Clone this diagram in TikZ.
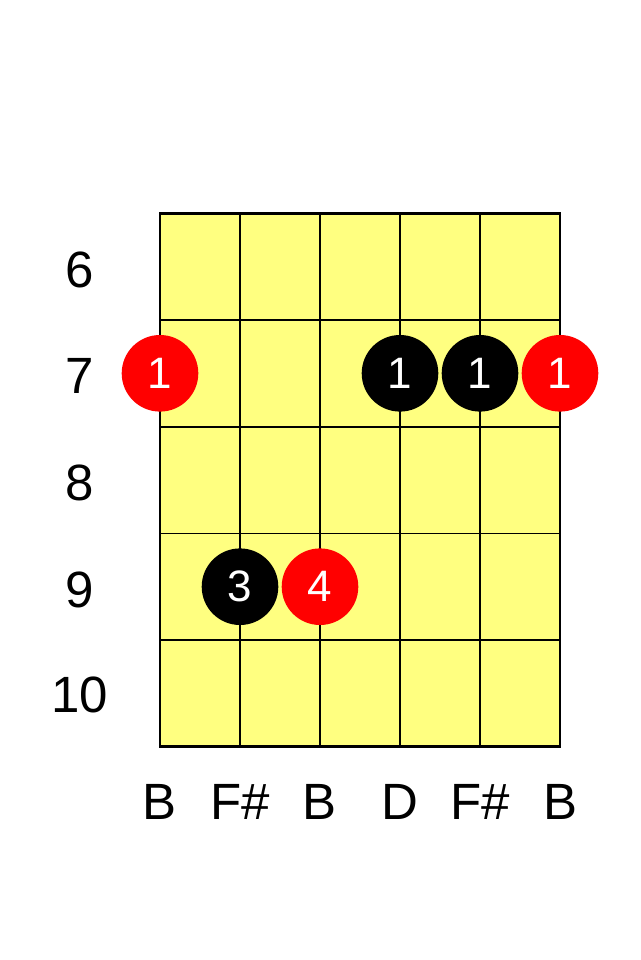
\documentclass[tikz,border=0pt]{standalone}
\usepackage{fontspec}
\setmainfont{Liberation Sans}
\definecolor{fretYellow}{RGB}{255,255,128}
\definecolor{dotRed}{RGB}{255,0,0}

\begin{document}
\begin{tikzpicture}[x=1pt,y=-1pt,
        fretLine/.style = {line width=1.6pt,black},
        borderLine/.style = {line width=2.6pt,black},
        blackNode/.style = {shape=circle,fill=black,text=white,minimum size=76.6pt,inner sep=0pt,font=\fontsize{44}{44}\selectfont},
        redNode/.style = {shape=circle,fill=dotRed,text=white,minimum size=76.6pt,inner sep=0pt,font=\fontsize{44}{44}\selectfont},
        fretLabel/.style = {font=\fontsize{51}{51}\selectfont,inner sep=0pt},
        noteLabel/.style = {font=\fontsize{51}{51}\selectfont,inner sep=0pt}
        ]
        \useasboundingbox (0,0) rectangle (640,960);
        % fretboard
        \fill[fretYellow] (160,213.3) rectangle (560,746.7);
        \foreach \x in {240,320,400,480}
            \draw[fretLine] (\x,213.3) -- (\x,746.7);
        \foreach \y in {320,426.7,533.3,640}
            \draw[fretLine] (160,\y) -- (560,\y);
        \draw[borderLine] (160,213.3) rectangle (560,746.7);
        % fret numbers
        \node[fretLabel] (fretSix) at (80,270) {6};
        \node[fretLabel] (fretSeven) at (80,376) {7};
        \node[fretLabel] (fretEight) at (80,483) {8};
        \node[fretLabel] (fretNine) at (80,590) {9};
        \node[fretLabel] (fretTen) at (80,695) {10};
        % finger dots
        \node[redNode] (dotLowB) at (160,373.3) {1};
        \node[blackNode] (dotD) at (400,373.3) {1};
        \node[blackNode] (dotHighFs) at (480,373.3) {1};
        \node[redNode] (dotHighB) at (560,373.3) {1};
        \node[blackNode] (dotLowFs) at (240,586.7) {3};
        \node[redNode] (dotMidB) at (320,586.7) {4};
        % string notes
        \node[noteLabel] (noteOne) at (160,802) {B};
        \node[noteLabel] (noteTwo) at (240,802) {F\#};
        \node[noteLabel] (noteThree) at (320,802) {B};
        \node[noteLabel] (noteFour) at (400,802) {D};
        \node[noteLabel] (noteFive) at (480,802) {F\#};
        \node[noteLabel] (noteSix) at (560,802) {B};
    \end{tikzpicture}
\end{document}
